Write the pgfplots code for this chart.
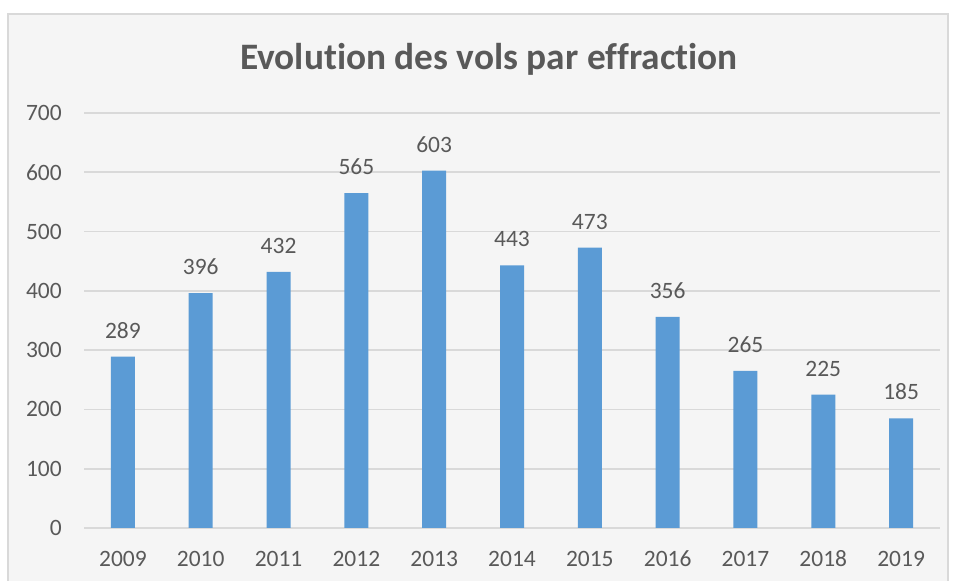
\documentclass[border=0pt]{standalone}
\usepackage{pgfplots}
\pgfplotsset{compat=1.18}
\usepackage{fontspec}
\setmainfont{Carlito}[Ligatures=CommonOff]
\definecolor{barblue}{HTML}{5B9BD5}
\definecolor{txtgray}{HTML}{595959}
\definecolor{gridgray}{HTML}{D9D9D9}
\definecolor{panel}{HTML}{F5F5F5}
\begin{document}
\begin{tikzpicture}
\begin{scope}[x=0.75pt,y=0.75pt]
  \fill[white] (0,0) rectangle (957,581);
  \path[use as bounding box] (0,0) rectangle (957,581);
  \filldraw[fill=panel, draw=gridgray, line width=1.5pt] (8,-5) rectangle (948,567);
  \node[txtgray, font=\fontsize{28}{32}\selectfont\bfseries] at (489,522) {Evolution des vols par effraction};
\end{scope}
\begin{axis}[
    at={(63pt,39.75pt)}, anchor=south west,
    scale only axis, width=642pt, height=311.25pt,
    xmin=-0.5, xmax=10.5, ymin=0, ymax=700,
    axis line style={draw=none},
    tick style={draw=none},
    ybar, bar width=18pt,
    xtick=data,
    xticklabels={2009,2010,2011,2012,2013,2014,2015,2016,2017,2018,2019},
    ytick={0,100,...,700},
    ymajorgrids, grid style={gridgray, line width=1.2pt},
    major tick length=0pt,
    /pgf/number format/assume math mode=true,
    tick label style={txtgray, font=\fontsize{17.6}{20}\selectfont, inner sep=0pt},
    xticklabel style={anchor=north, yshift=-17pt},
    yticklabel style={anchor=east, xshift=-16.5pt},
    nodes near coords,
    nodes near coords style={txtgray, font=\fontsize{17.6}{20}\selectfont, inner sep=0pt, anchor=south, yshift=13.5pt},
    clip=false,
]
\addplot[fill=barblue, draw=none] coordinates {
  (0,289) (1,396) (2,432) (3,565) (4,603) (5,443) (6,473) (7,356) (8,265) (9,225) (10,185)
};
\end{axis}
\end{tikzpicture}
\end{document}
